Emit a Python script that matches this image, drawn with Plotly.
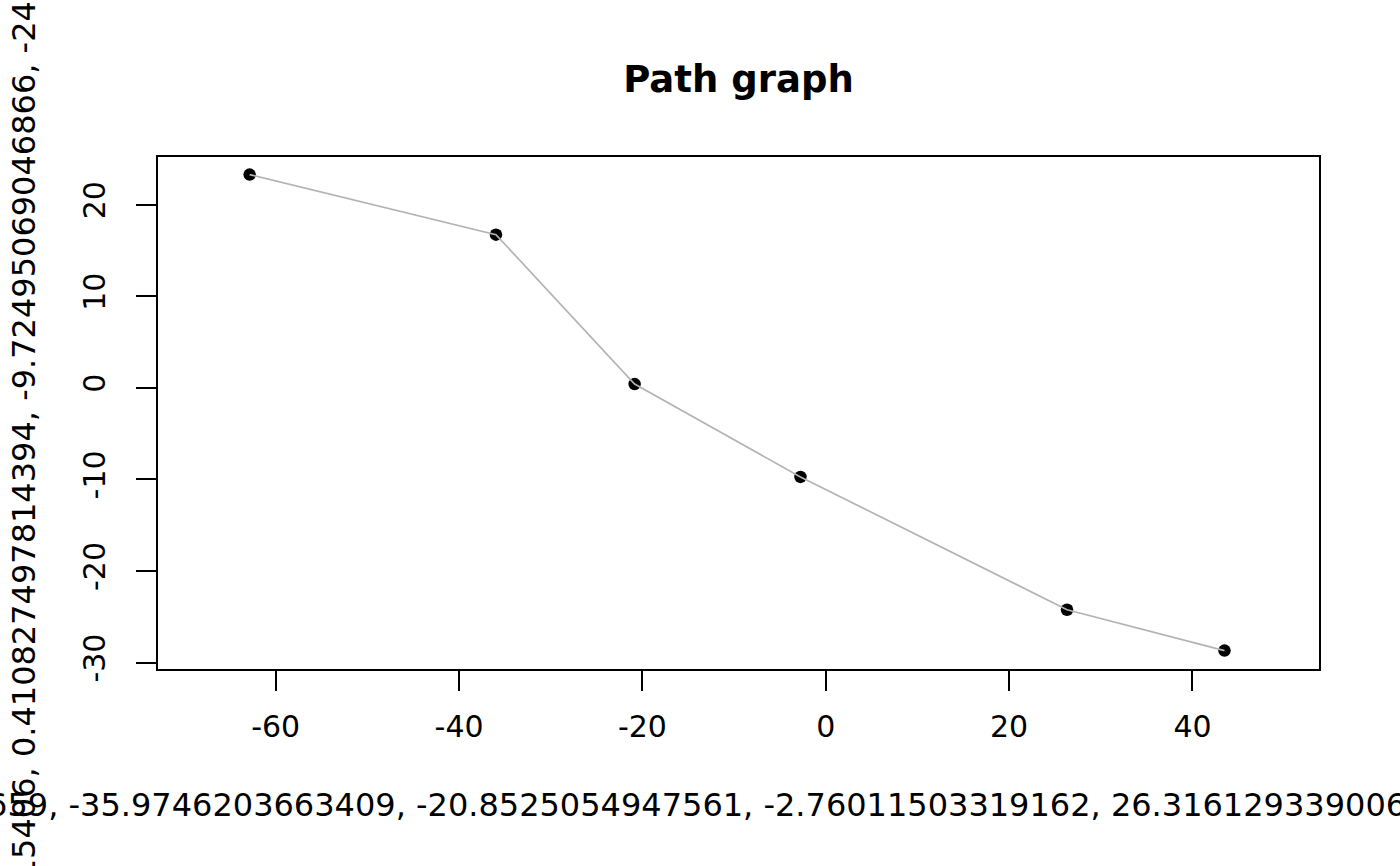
import plotly.graph_objects as go

# Point coordinates (path order)
x_vals = [-62.8439067095659, -35.9746203663409, -20.8525054947561,
          -2.76011503319162, 26.3161293390066, 43.4908735012438]
y_vals = [23.2803614783516, 16.7203829115406, 0.410827497814394,
          -9.72495069046866, -24.2312093471628, -28.6903127460813]

x_ticks = [-60, -40, -20, 0, 20, 40]
y_ticks = [-30, -20, -10, 0, 10, 20]

title_text = 'Path graph'
# R style deparsed axis labels, e.g. c(-62.84..., -35.97..., ...)
# they run past the page edges and get cut, same as in the reference
x_label = 'c(' + ', '.join(format(v, '.15g') for v in x_vals) + ')'
y_label = 'c(' + ', '.join(format(v, '.15g') for v in y_vals) + ')'

FONT = 'DejaVu Sans'

fig = go.Figure()

# markers first, so the grey path is drawn over them like in the reference
fig.add_trace(go.Scatter(
    x=x_vals, y=y_vals,
    mode='markers',
    marker=dict(color='black', size=12.5),
    showlegend=False,
))
fig.add_trace(go.Scatter(
    x=x_vals, y=y_vals,
    mode='lines',
    line=dict(color='#b3b3b3', width=1.7),
    showlegend=False,
))

axis_common = dict(
    showgrid=False,
    zeroline=False,
    showline=True,
    mirror=True,
    linecolor='black',
    linewidth=1.6,
    ticks='outside',
    ticklen=20,
    tickwidth=1.6,
    tickcolor='black',
    tickfont=dict(family=FONT, size=30, color='black'),
)

# plain hyphen minus signs like R, not the unicode minus plotly uses
fig.update_xaxes(
    range=[-72.84, 53.8],
    tickvals=x_ticks,
    ticktext=[str(t) for t in x_ticks],
    ticklabelstandoff=10,
    **axis_common,
)
fig.update_yaxes(
    range=[-30.7, 25.2],
    tickvals=y_ticks,
    ticktext=[str(t) for t in y_ticks],
    tickangle=-90,
    ticklabelstandoff=19,
    **axis_common,
)

fig.update_layout(
    width=1400,
    height=866,
    plot_bgcolor='white',
    paper_bgcolor='white',
    margin=dict(l=158, r=81, t=157, b=197),
    title=dict(
        text=f'<b>{title_text}</b>',
        font=dict(family=FONT, size=37, color='black'),
        x=0.5,
        xref='paper',
        xanchor='center',
        y=1 - 79 / 866,
        yanchor='middle',
    ),
    annotations=[
        dict(
            text=x_label,
            xref='paper', yref='paper',
            x=0.5, y=0,
            xanchor='center', yanchor='middle',
            xshift=-6,
            yshift=-136,
            showarrow=False,
            font=dict(family=FONT, size=32, color='black'),
        ),
        dict(
            text=y_label,
            xref='paper', yref='paper',
            x=0, y=0.5,
            xanchor='center', yanchor='middle',
            xshift=-134,
            textangle=-90,
            showarrow=False,
            font=dict(family=FONT, size=32, color='black'),
        ),
    ],
)

# drop the default 8px page margin so the figure sits at the window corner
fig.write_html(
    'out.html',
    config={'displayModeBar': False},
    post_script="document.body.style.margin='0';",
)
